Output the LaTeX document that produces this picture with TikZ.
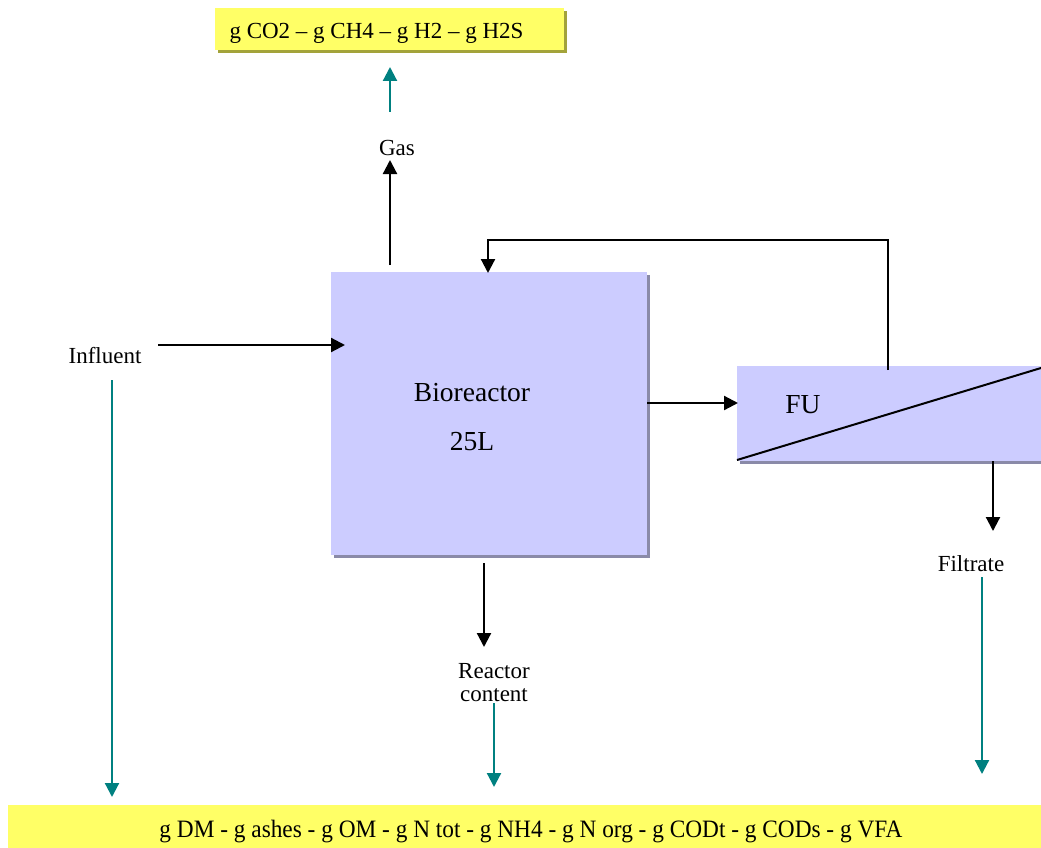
\documentclass[tikz,border=0pt]{standalone}
\usepackage{fontspec}
\setmainfont{Liberation Serif}
\usetikzlibrary{arrows.meta}
\definecolor{lav}{HTML}{CCCCFF}
\definecolor{lavsh}{HTML}{8A8AA8}
\definecolor{yel}{HTML}{FFFF66}
\definecolor{yelsh}{HTML}{A3A33A}
\definecolor{teal2}{HTML}{008080}
\tikzset{
  blk/.style={draw=black, line width=2.2pt, -{Triangle[length=14pt,width=14pt]}},
  tl/.style={draw=teal2, line width=2.2pt, -{Triangle[length=14pt,width=14pt]}},
  lbl/.style={font=\fontsize{23}{25}\selectfont, inner sep=0pt},
  big/.style={font=\fontsize{27.5}{30}\selectfont, inner sep=0pt},
}
\begin{document}
\begin{tikzpicture}[x=1pt,y=-1pt]
\useasboundingbox (0,0) rectangle (1041,848);
% top yellow box
\fill[yelsh] (218,11) rectangle (567,53);
\fill[yel] (215,8) rectangle (564,50);
\node[lbl] (gases) at (376.5,33) {g CO2 -- g CH4 -- g H2 -- g H2S};
% bottom yellow box
\fill[yel] (8,805) rectangle (1041,848);
\node[inner sep=0pt] (comp) at (531,832) {\fontsize{25}{27}\selectfont\resizebox{743pt}{\height}{g DM - g ashes - g OM - g N tot - g NH4 - g N org - g CODt - g CODs - g VFA}};
% bioreactor
\fill[lavsh] (334,275) rectangle (650,558);
\fill[lav] (331,272) rectangle (647,555);
\node (bio) at (489,413.5) {};
\node[big] (biot) at (472,393) {Bioreactor};
\node[big] (vol) at (472,442) {25L};
% FU
\fill[lavsh] (740,369) rectangle (1041,464);
\fill[lav] (737,366) rectangle (1041,461);
\coordinate (fua) at (737,460);
\coordinate (fub) at (1041,368);
\draw[line width=2pt] (fua) -- (fub);
\node[big] (fu) at (803,405) {FU};
% labels
\node[lbl] (gas) at (397,148) {Gas};
\node[lbl] (infl) at (105,356) {Influent};
\node[lbl] (filt) at (971,564) {Filtrate};
\node[lbl, align=center] (rc) at (494,683) {Reactor\\[-2pt]content};
% connectors
\coordinate (g0) at (390,265);
\coordinate (g1) at (390,160);
\draw[blk] (g0) -- (g1);
\coordinate (t0) at (390,112);
\coordinate (t1) at (390,67);
\draw[tl] (t0) -- (t1);
\coordinate (i0) at (158,345);
\coordinate (i1) at (345,345);
\draw[blk] (i0) -- (i1);
\coordinate (it0) at (112,380);
\coordinate (it1) at (112,797);
\draw[tl] (it0) -- (it1);
\coordinate (r0) at (888,370);
\coordinate (r1) at (488,273);
\draw[blk] (r0) |- (488,240) -- (r1);
\coordinate (b0) at (647,403);
\coordinate (b1) at (738,403);
\draw[blk] (b0) -- (b1);
\coordinate (f0) at (993,461);
\coordinate (f1) at (993,531);
\draw[blk] (f0) -- (f1);
\coordinate (ft0) at (982,577);
\coordinate (ft1) at (982,774);
\draw[tl] (ft0) -- (ft1);
\coordinate (c0) at (484,563);
\coordinate (c1) at (484,647);
\draw[blk] (c0) -- (c1);
\coordinate (ct0) at (494,703);
\coordinate (ct1) at (494,787);
\draw[tl] (ct0) -- (ct1);
\end{tikzpicture}
\end{document}
